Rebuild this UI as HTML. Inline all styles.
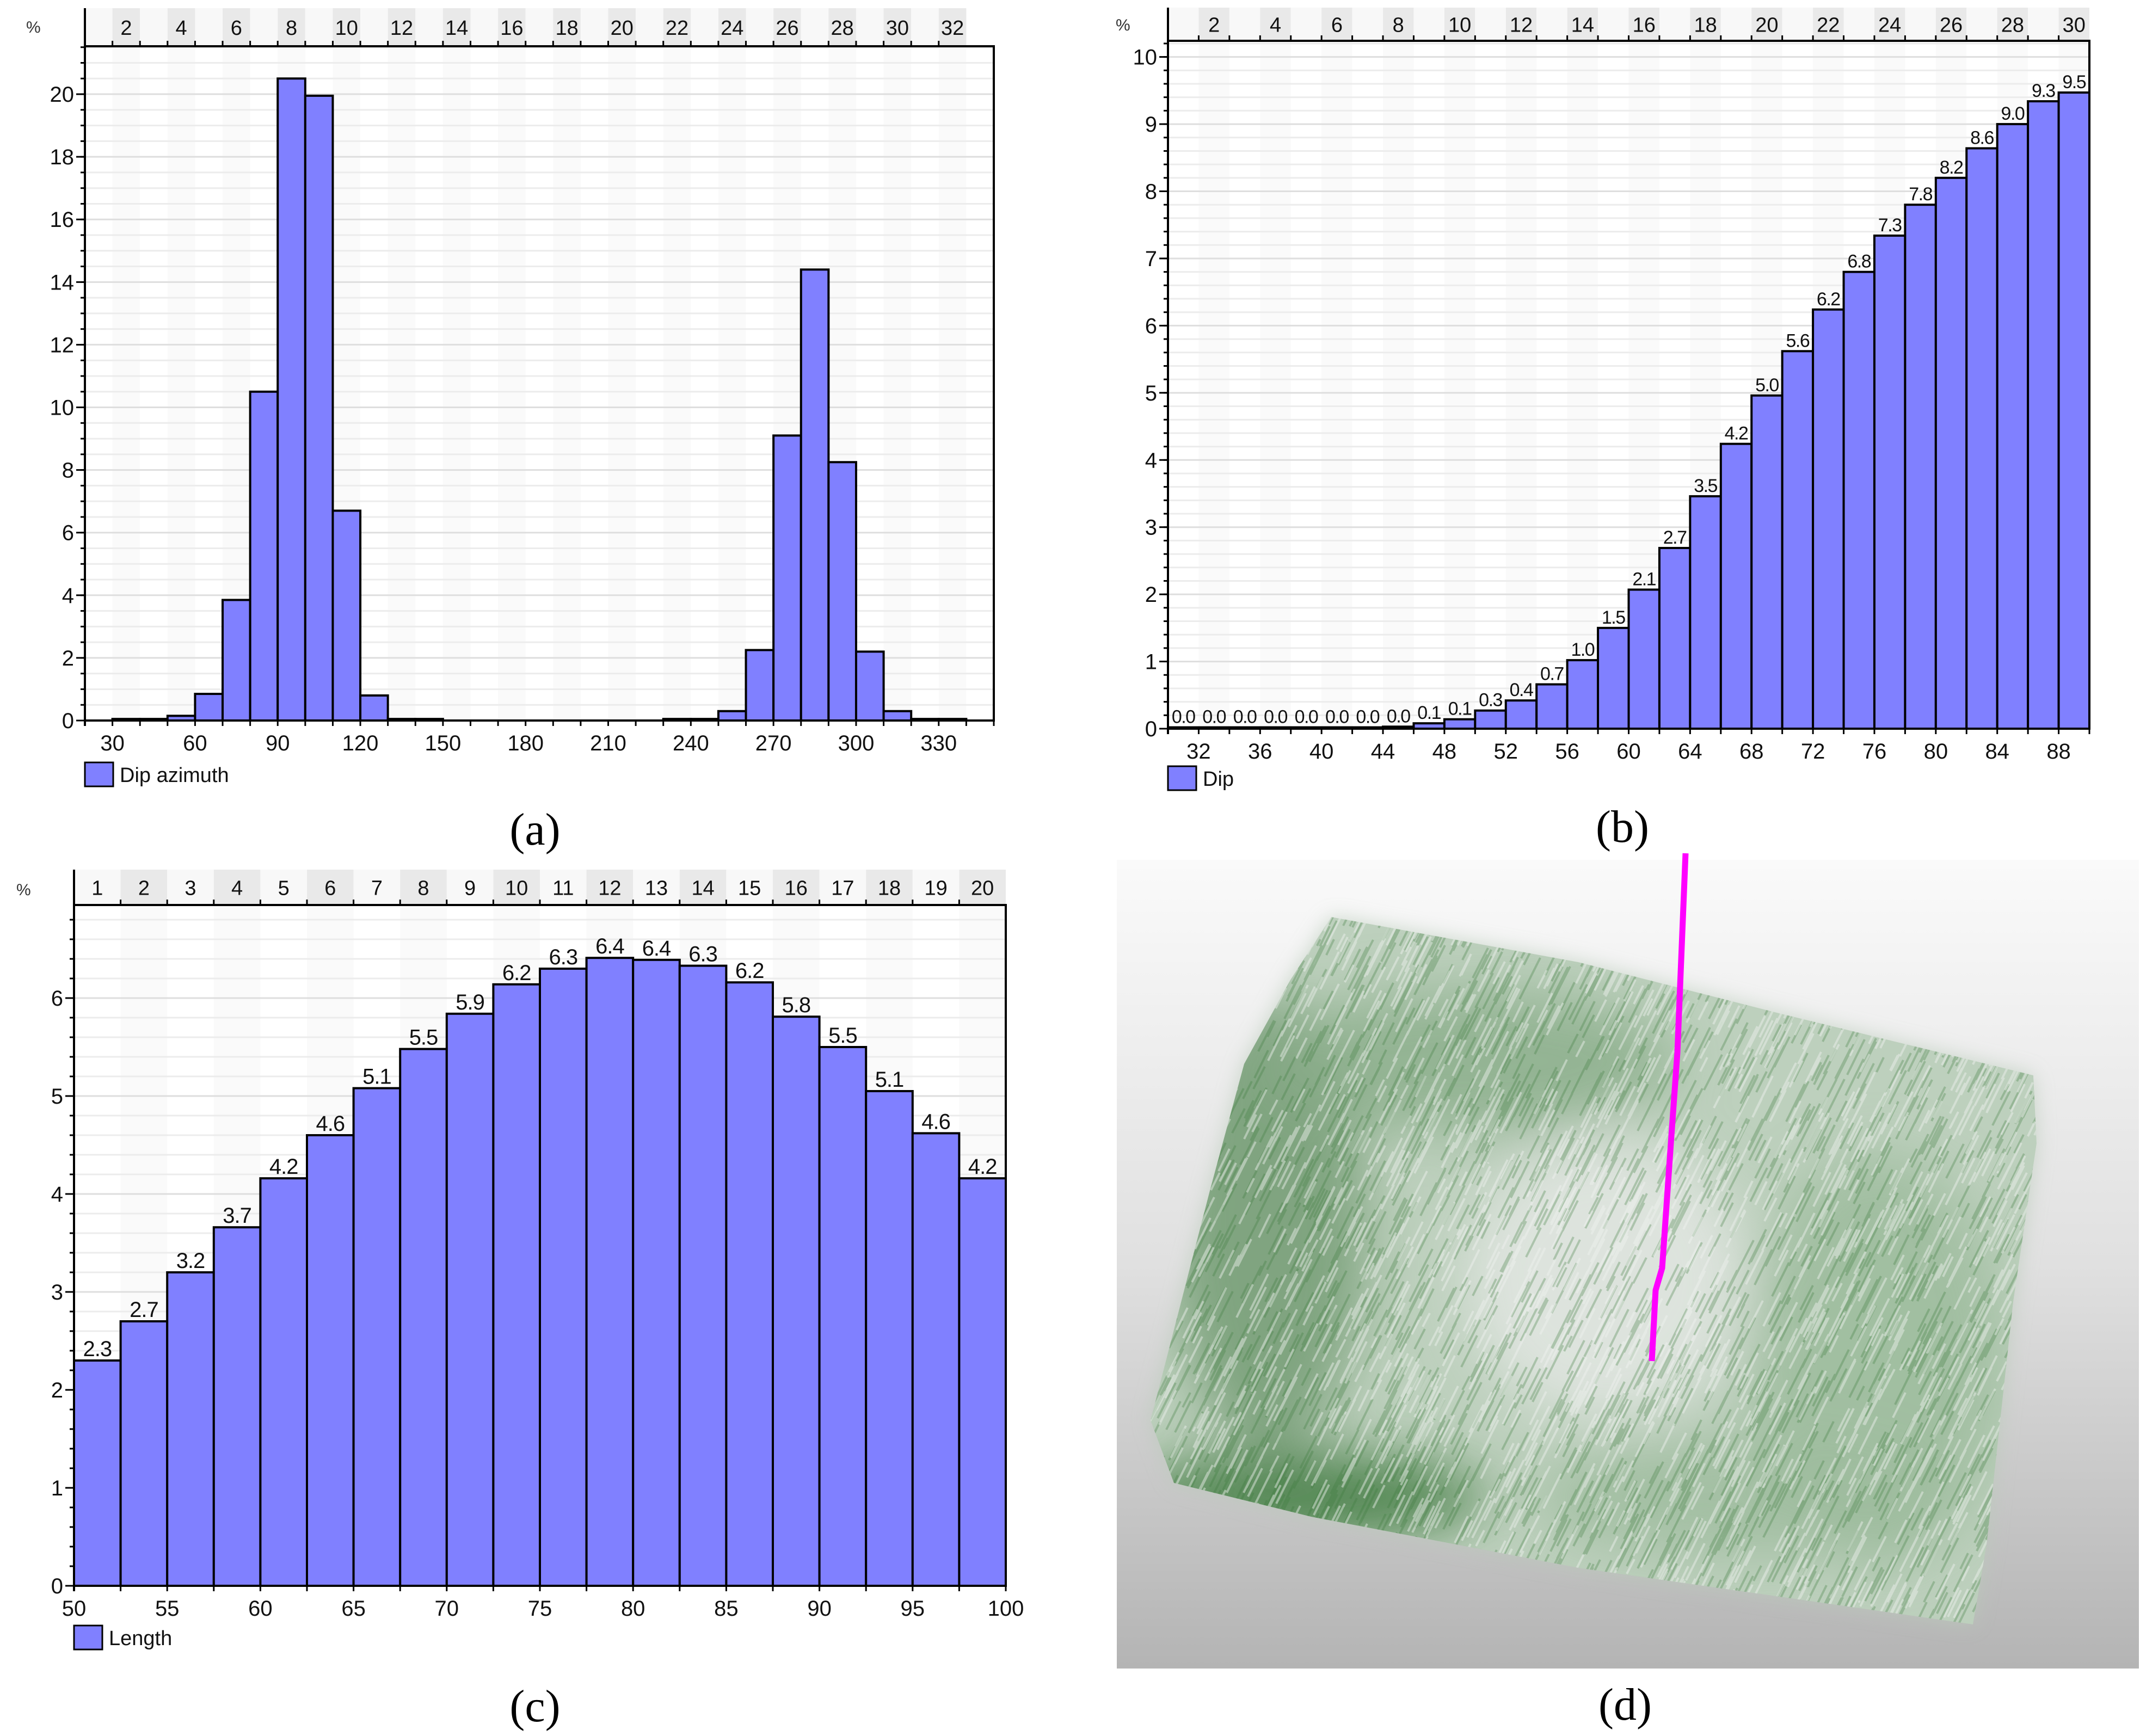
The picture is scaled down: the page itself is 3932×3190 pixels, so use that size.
<!DOCTYPE html>
<html><head><meta charset="utf-8">
<style>
html,body{margin:0;padding:0;background:#fff;}
svg{display:block;font-family:"Liberation Sans",sans-serif;}
.cap{font-family:"Liberation Serif",serif;font-size:84px;}
</style></head>
<body>
<svg id="fig" width="3932" height="3190" viewBox="0 0 3932 3190" xmlns="http://www.w3.org/2000/svg">
<defs>
<linearGradient id="bgD" x1="0" y1="0" x2="0" y2="1">
<stop offset="0" stop-color="#fafafa"/><stop offset="0.5" stop-color="#e0e0e0"/><stop offset="1" stop-color="#b4b4b4"/>
</linearGradient>
<filter id="blur1"><feGaussianBlur stdDeviation="50"/></filter>
<filter id="blurEdge"><feGaussianBlur stdDeviation="18"/></filter>
<clipPath id="cloudClip"><polygon points="2446,1685 2900,1768 3269,1862 3736,1976 3742,2101 3699,2392 3650,2839 3625,2985 2900,2881 2409,2787 2157,2725 2114,2610 2224,2184 2286,1955 2372,1799"/></clipPath>
</defs>
<g id="chartA"></g>
<g id="chartB"></g>
<g id="chartC"></g>
<g id="panelD">
<rect x="2052" y="1580" width="1878" height="1486" fill="url(#bgD)"/>
<polygon points="2446,1685 2900,1768 3269,1862 3736,1976 3742,2101 3699,2392 3650,2839 3625,2985 2900,2881 2409,2787 2157,2725 2114,2610 2224,2184 2286,1955 2372,1799" fill="#b9cbb9" opacity="0.7" filter="url(#blurEdge)"/>
<g clip-path="url(#cloudClip)">
<polygon points="2446,1685 2900,1768 3269,1862 3736,1976 3742,2101 3699,2392 3650,2839 3625,2985 2900,2881 2409,2787 2157,2725 2114,2610 2224,2184 2286,1955 2372,1799" fill="#bdd0bd"/>
<g filter="url(#blur1)">
<ellipse cx="2330" cy="2250" rx="180" ry="420" fill="#6f986f" opacity="0.8"/>
<ellipse cx="2400" cy="2750" rx="330" ry="80" fill="#3f7a3f" opacity="0.85"/>
<ellipse cx="2700" cy="1950" rx="380" ry="130" fill="#8aac8a" opacity="0.8"/>
<ellipse cx="2950" cy="2350" rx="260" ry="260" fill="#dde3dd"/>
<ellipse cx="3450" cy="2500" rx="230" ry="380" fill="#9aba9a" opacity="0.8"/>
<ellipse cx="3200" cy="2750" rx="380" ry="110" fill="#9dbb9d" opacity="0.8"/>
</g>
<g id="strokes"></g>
</g>
<polyline points="3097,1568 3082,1934 3070,2101 3054,2330 3042,2371 3035,2501" fill="none" stroke="#ff00ff" stroke-width="11"/>
</g>
<text class="cap" x="983" y="1552" text-anchor="middle">(a)</text>
<text class="cap" x="2981" y="1547" text-anchor="middle">(b)</text>
<text class="cap" x="983" y="3163" text-anchor="middle">(c)</text>
<text class="cap" x="2986" y="3160" text-anchor="middle">(d)</text>
</svg>
<script>
// ---- chart (a) data ----
const azBins = [30,40,50,60,70,80,90,100,110,120,130,140,150,160,170,180,190,200,210,220,230,240,250,260,270,280,290,300,310,320,330];
const azValues = [0.05,0.05,0.15,0.85,3.85,10.5,20.5,19.95,6.7,0.8,0.05,0.05,0,0,0,0,0,0,0,0,0.05,0.05,0.3,2.25,9.1,14.4,8.25,2.2,0.3,0.05,0.05];
const azXTicks = [30,60,90,120,150,180,210,240,270,300,330];
const azYTicks = [0,2,4,6,8,10,12,14,16,18,20];
// ---- chart (b) data ----
const dipBins = [30,32,34,36,38,40,42,44,46,48,50,52,54,56,58,60,62,64,66,68,70,72,74,76,78,80,82,84,86,88];
const dipValues = [0.02,0.02,0.02,0.02,0.02,0.02,0.02,0.03,0.08,0.14,0.27,0.42,0.66,1.02,1.5,2.07,2.69,3.46,4.24,4.96,5.62,6.24,6.8,7.34,7.8,8.2,8.64,9.0,9.34,9.47];
const dipLabels = ["0.0","0.0","0.0","0.0","0.0","0.0","0.0","0.0","0.1","0.1","0.3","0.4","0.7","1.0","1.5","2.1","2.7","3.5","4.2","5.0","5.6","6.2","6.8","7.3","7.8","8.2","8.6","9.0","9.3","9.5"];
const dipXTicks = [32,36,40,44,48,52,56,60,64,68,72,76,80,84,88];
const dipYTicks = [0,1,2,3,4,5,6,7,8,9,10];
// ---- chart (c) data ----
const lenBins = [50,52.5,55,57.5,60,62.5,65,67.5,70,72.5,75,77.5,80,82.5,85,87.5,90,92.5,95,97.5];
const lenValues = [2.3,2.7,3.2,3.66,4.16,4.6,5.08,5.48,5.84,6.14,6.3,6.41,6.39,6.33,6.16,5.81,5.5,5.05,4.62,4.16];
const lenLabels = ["2.3","2.7","3.2","3.7","4.2","4.6","5.1","5.5","5.9","6.2","6.3","6.4","6.4","6.3","6.2","5.8","5.5","5.1","4.6","4.2"];
const lenXTicks = [50,55,60,65,70,75,80,85,90,95,100];
const lenYTicks = [0,1,2,3,4,5,6];

const NS = "http://www.w3.org/2000/svg";
function mk(parent, tag, attrs, text){
  const e = document.createElementNS(NS, tag);
  for (const k in attrs) e.setAttribute(k, attrs[k]);
  if (text !== undefined) e.textContent = text;
  parent.appendChild(e);
  return e;
}

function hist(g, o){
  const sx = v => o.L + (v - o.xmin) / (o.xmax - o.xmin) * (o.R - o.L);
  const sy = v => o.B - v / o.ymax * (o.B - o.T);
  const bg = mk(g, 'rect', {x:o.L, y:o.T, width:o.R-o.L, height:o.B-o.T, fill:'#ffffff'});
  
  
  for (let i = 0; i < o.hCount; i++){
    const x0 = sx(o.hStart + i*o.hW), x1 = sx(o.hStart + (i+1)*o.hW);
    const n = i + 1;
    const c = mk(g, 'rect', {x:x0, y:o.HT, width:x1-x0, height:o.T-o.HT, fill:(n%2===0)?'#e9e9e9':'#f8f8f8'});
    
    
    if (n % 2 === 0){
      mk(g, 'rect', {x:x0, y:o.T, width:x1-x0, height:o.B-o.T, fill:'#fafafa'});
    }
    mk(g, 'line', {x1:x0, y1:o.T-10, x2:x0, y2:o.T, stroke:'#000', 'stroke-width':3});
    if (n % o.hEvery === 0){
      const t = mk(g, 'text', {x:(x0+x1)/2, y:(o.HT+o.T)/2+14, 'font-size':38, 'text-anchor':'middle', fill:'#111'}, String(n));
      
      
    }
  }
  for (let v = o.minor; v < o.ymax; v += o.minor){
    const major = Math.abs(v/o.major - Math.round(v/o.major)) < 1e-6;
    mk(g, 'line', {x1:o.L, y1:sy(v), x2:o.R, y2:sy(v), stroke: major?'#dedede':'#ececec', 'stroke-width':3});
    mk(g, 'line', {x1:o.L-8, y1:sy(v), x2:o.L, y2:sy(v), stroke:'#000', 'stroke-width':3});
  }
  o.bins.forEach((b, i) => {
    const x0 = sx(b), x1 = sx(b + o.bw), y = sy(o.values[i]);
    const r = mk(g, 'rect', {x:x0, y:y, width:x1-x0, height:o.B-y, fill:'#8080ff', stroke:'#000', 'stroke-width':4});
    
    
    if (o.labels){
      const t = mk(g, 'text', {x:(x0+x1)/2, y:y-8, 'font-size':o.lfs, 'letter-spacing':o.ls, 'text-anchor':'middle', fill:'#111'}, o.labels[i]);
      
      
    }
  });
  mk(g, 'rect', {x:o.L, y:o.T, width:o.R-o.L, height:o.B-o.T, fill:'none', stroke:'#000', 'stroke-width':4});
  mk(g, 'line', {x1:o.L, y1:o.HT, x2:o.L, y2:o.B+10, stroke:'#000', 'stroke-width':4});
  for (let v = o.xmin; v <= o.xmax + 1e-6; v += o.bw){
    mk(g, 'line', {x1:sx(v), y1:o.B, x2:sx(v), y2:o.B+10, stroke:'#000', 'stroke-width':3});
  }
  o.xticks.forEach(v => {
    const t = mk(g, 'text', {x:sx(v), y:o.B+55, 'font-size':40, 'text-anchor':'middle', fill:'#111'}, String(v));
    
    
  });
  o.yticks.forEach(v => {
    mk(g, 'line', {x1:o.L-16, y1:sy(v), x2:o.L, y2:sy(v), stroke:'#000', 'stroke-width':3});
    const t = mk(g, 'text', {x:o.L-20, y:sy(v)+14, 'font-size':40, 'text-anchor':'end', fill:'#111'}, String(v));
    
    
  });
  const pc = mk(g, 'text', {x:o.pctX, y:o.pctY, 'font-size':30, fill:'#333'}, '%');
  
  
  const sw = mk(g, 'rect', {x:o.L, y:o.legY, width:52, height:44, fill:'#8080ff', stroke:'#000', 'stroke-width':3});
  
  
  const lt = mk(g, 'text', {x:o.L+64, y:o.legY+36, 'font-size':38, fill:'#111'}, o.legend);
  
  
}

hist(document.getElementById('chartA'), {L:156, R:1826, T:85, B:1324, HT:15, xmin:20, xmax:350, ymax:21.53,
  bins:azBins, bw:10, values:azValues, labels:null, xticks:azXTicks, yticks:azYTicks, major:2, minor:0.5,
  hStart:20, hW:10, hCount:32, hEvery:2, pctX:48, pctY:60, legY:1401, legend:'Dip azimuth', lfs:40, ls:0});
hist(document.getElementById('chartB'), {L:2146, R:3839, T:75, B:1339, HT:14, xmin:30, xmax:90, ymax:10.24,
  bins:dipBins, bw:2, values:dipValues, labels:dipLabels, xticks:dipXTicks, yticks:dipYTicks, major:1, minor:0.2,
  hStart:30, hW:2, hCount:30, hEvery:2, pctX:2050, pctY:56, legY:1408, legend:'Dip', lfs:34, ls:-1.5});
hist(document.getElementById('chartC'), {L:136, R:1848, T:1663, B:2914, HT:1598, xmin:50, xmax:100, ymax:6.95,
  bins:lenBins, bw:2.5, values:lenValues, labels:lenLabels, xticks:lenXTicks, yticks:lenYTicks, major:1, minor:0.2,
  hStart:50, hW:2.5, hCount:20, hEvery:1, pctX:30, pctY:1645, legY:2987, legend:'Length', lfs:40, ls:-1});

// decorative texture strokes for the 3D scene (not data)
(function(){
  const g = document.getElementById('strokes');
  let s = 12345;
  const rnd = () => { s = (s * 16807) % 2147483647; return s / 2147483647; };
  let d1 = '', d2 = '';
  for (let i = 0; i < 4500; i++){
    const x = 2100 + rnd()*1660, y = 1670 + rnd()*1330;
    const len = 25 + rnd()*45;
    const seg = 'M' + x.toFixed(0) + ' ' + y.toFixed(0) + 'l' + (len*0.5).toFixed(0) + ' ' + (-len).toFixed(0);
    if (rnd() < 0.55) d1 += seg; else d2 += seg;
  }
  const p1 = mk(g, 'path', {d:d1, stroke:'#3d7a3d', 'stroke-opacity':0.3, 'stroke-width':4, fill:'none'});
  
  
  const p2 = mk(g, 'path', {d:d2, stroke:'#f0f2f0', 'stroke-opacity':0.45, 'stroke-width':4, fill:'none'});
  
  
})();
</script>
</body></html>
